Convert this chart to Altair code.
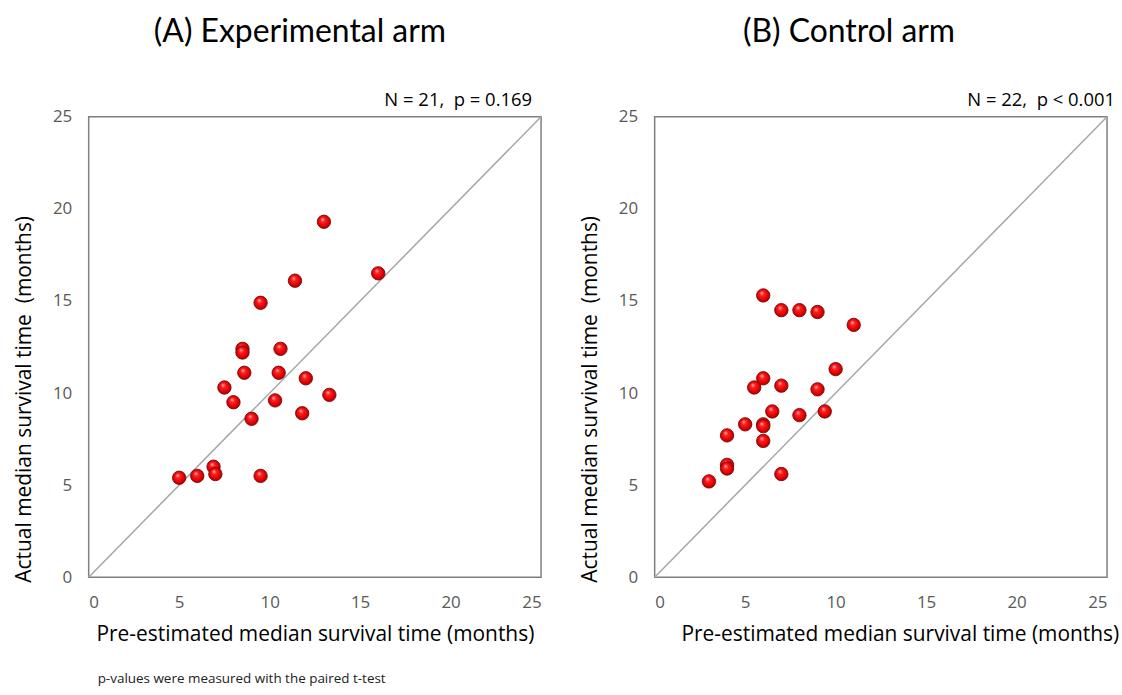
import altair as alt
import pandas as pd

# ---- data ----
A_PRE = [13.0, 16.0, 11.4, 9.5, 8.5, 8.5, 10.6, 8.6, 10.5, 12.0, 7.5, 13.3, 8.0, 10.3, 11.8, 9.0, 6.9, 7.0, 6.0, 5.0, 9.5]
A_ACT = [19.3, 16.5, 16.1, 14.9, 12.4, 12.2, 12.4, 11.1, 11.1, 10.8, 10.3, 9.9, 9.5, 9.6, 8.9, 8.6, 6.0, 5.6, 5.5, 5.4, 5.5]

B_PRE = [6.0, 7.0, 8.0, 9.0, 11.0, 10.0, 6.0, 5.5, 7.0, 9.0, 6.5, 8.0, 9.4, 5.0, 6.0, 6.0, 4.0, 6.0, 4.0, 4.0, 7.0, 3.0]
B_ACT = [15.3, 14.5, 14.5, 14.4, 13.7, 11.3, 10.8, 10.3, 10.4, 10.2, 9.0, 8.8, 9.0, 8.3, 8.3, 8.2, 7.7, 7.4, 6.1, 5.9, 5.6, 5.2]

DIAG = [0, 25]
TICKS = [0, 5, 10, 15, 20, 25]

NB = "\u00a0"
TITLE_A = "(A) Experimental arm"
TITLE_B = "(B) Control arm"
NOTE_A = "N = 21," + NB + " p = 0.169"
NOTE_B = "N = 22," + NB + " p < 0.001"
X_TITLE = "Pre-estimated median survival time (months)"
Y_TITLE = "Actual median survival time" + NB + " (months)"
FOOTNOTE = "p-values were measured with the paired t-test"

W, H = 454, 462
Y_TITLE_POS = H / 2 + 52

ball = alt.Gradient(
    gradient="radial",
    stops=[
        alt.GradientStop(offset=0, color="#ffc4c4"),
        alt.GradientStop(offset=0.3, color="#ff2020"),
        alt.GradientStop(offset=0.75, color="#dd0000"),
        alt.GradientStop(offset=1, color="#8a0000"),
    ],
    x1=0.38, y1=0.3, r1=0, x2=0.5, y2=0.5, r2=0.55,
)


def panel(pre, act, title, note, note_dx, title_dx, xtitle_dx, foot=False):
    df = pd.DataFrame({"pre": pre, "act": act})
    diag = pd.DataFrame({"v": DIAG})
    xs = alt.Scale(domain=[0, 25], nice=False)
    ys = alt.Scale(domain=[0, 25], nice=False)
    xaxis = alt.Axis(values=TICKS, title=X_TITLE, titleX=W / 2 + xtitle_dx)
    yaxis = alt.Axis(values=TICKS, title=Y_TITLE, titleY=Y_TITLE_POS)

    line = alt.Chart(diag).mark_line(color="#a6a6a6", strokeWidth=1.5).encode(
        x=alt.X("v:Q", scale=xs, axis=xaxis),
        y=alt.Y("v:Q", scale=ys, axis=yaxis),
    )
    pts = alt.Chart(df).mark_point(
        filled=True, fill=ball, stroke="#7a0a0a", strokeWidth=0.9,
        size=180, opacity=1, fillOpacity=1, shape="circle",
    ).encode(
        x=alt.X("pre:Q", scale=xs, axis=xaxis),
        y=alt.Y("act:Q", scale=ys, axis=yaxis),
    )
    ann = alt.Chart(pd.DataFrame({"t": [note]})).mark_text(
        align="right", baseline="alphabetic", font="Open Sans", fontSize=18.5, color="#000000",
    ).encode(text="t:N", x=alt.value(W + note_dx), y=alt.value(-11))
    layers = [line, pts, ann]
    if foot:
        fn = alt.Chart(pd.DataFrame({"t": [FOOTNOTE]})).mark_text(
            align="left", baseline="middle", font="Open Sans", fontSize=13.5, color="#222222",
        ).encode(text="t:N", x=alt.value(9), y=alt.value(H + 102))
        layers.append(fn)
    return alt.layer(*layers).properties(
        width=W, height=H,
        title=alt.TitleParams(
            title, font="Lato", fontSize=32, fontWeight="normal", color="#000000",
            anchor="middle", dx=title_dx, offset=42,
        ),
    )


a = panel(A_PRE, A_ACT, TITLE_A, NOTE_A, -9, -15, 0, foot=True)
b = panel(B_PRE, B_ACT, TITLE_B, NOTE_B, 8, -32, 19)

chart = alt.hconcat(a, b, spacing=33).configure_view(
    stroke="#7f7f7f", strokeWidth=1.5,
).configure_axis(
    domain=False, ticks=False, grid=False,
    labelFont="Open Sans", labelFontSize=17, labelColor="#595959", labelPadding=17,
    titleFont="Open Sans", titleFontSize=21, titleFontWeight="normal", titleColor="#000000",
).configure_axisX(
    titlePadding=14,
).configure_axisY(
    titlePadding=18,
).properties(
    background="white",
    padding={"left": 12, "top": 14, "right": 2, "bottom": 2},
)

chart.save("out.html", embed_options={"renderer": "svg", "actions": False})
